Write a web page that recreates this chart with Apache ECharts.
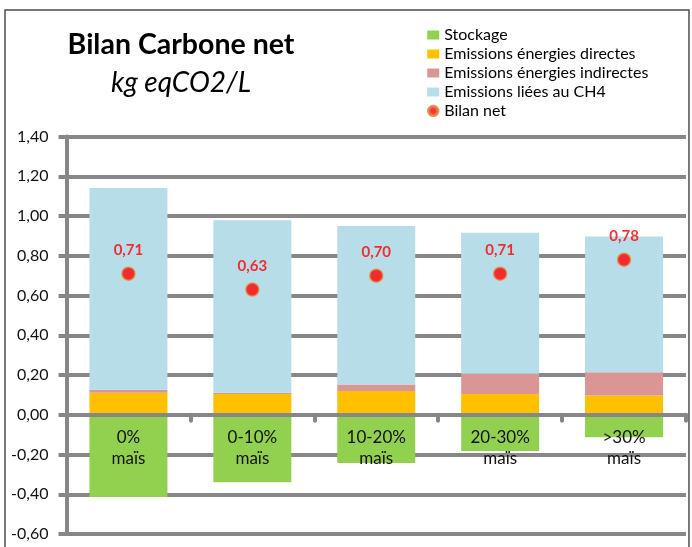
<!DOCTYPE html>
<html>
<head>
<meta charset="utf-8">
<script src="https://cdn.jsdelivr.net/npm/echarts@6/dist/echarts.min.js"></script>
<style>
html,body{margin:0;padding:0;background:#fff;}
#chart{width:692px;height:547px;}
</style>
</head>
<body>
<div id="chart"></div>
<script>
const categories = ['0%\nmaïs', '0-10%\nmaïs', '10-20%\nmaïs', '20-30%\nmaïs', '>30%\nmaïs'];
const stockage = [-0.414, -0.339, -0.243, -0.183, -0.113];
const emissionsDirectes = [0.111, 0.104, 0.119, 0.104, 0.097];
const emissionsIndirectes = [0.015, 0.007, 0.033, 0.102, 0.117];
const emissionsCH4 = [1.015, 0.867, 0.798, 0.710, 0.683];
const bilanNet = [0.71, 0.63, 0.70, 0.71, 0.78];

const FONT = 'Lato, "Open Sans", sans-serif';
const GRID_GRAY = '#878787';
const fmt = v => v.toFixed(2).replace('.', ',');

const chart = echarts.init(document.getElementById('chart'));
chart.setOption({
  animation: false,
  textStyle: { fontFamily: FONT },
  title: [
    { text: 'Bilan Carbone net', left: 176, top: 25, textAlign: 'center',
      textStyle: { fontFamily: FONT, fontSize: 28.5, fontWeight: 'bold', color: '#000' } },
    { text: 'kg eqCO2/L', left: 176, top: 64, textAlign: 'center',
      textStyle: { fontFamily: FONT, fontSize: 28, fontStyle: 'italic', fontWeight: 'normal', color: '#000' } }
  ],
  legend: {
    orient: 'vertical', left: 422, top: 21.5,
    itemWidth: 12, itemHeight: 9, itemGap: 2,
    textStyle: { fontFamily: FONT, fontSize: 16, lineHeight: 17, color: '#000' },
    data: [
      { name: 'Stockage', icon: 'rect' },
      { name: 'Emissions énergies directes', icon: 'rect' },
      { name: 'Emissions énergies indirectes', icon: 'rect' },
      { name: 'Emissions liées au CH4', icon: 'rect' },
      { name: 'Bilan net', icon: 'circle', itemStyle: { color: '#FF0000', borderColor: '#E07B39', borderWidth: 3.5 } }
    ]
  },
  graphic: [
    { type: 'rect', shape: { x: 5, y: 10, width: 684, height: 600 },
      style: { fill: 'none', stroke: '#4d4d4d', lineWidth: 1.5 }, z: 100 }
  ],
  grid: { left: 66.5, right: 6, top: 136.5, bottom: 13, containLabel: false, outerBoundsMode: 'none' },
  xAxis: {
    type: 'category', data: categories, z: 10,
    axisLine: { onZero: true, lineStyle: { color: GRID_GRAY, width: 4 } },
    axisTick: { show: true, inside: false, length: 6, lineStyle: { color: GRID_GRAY, width: 4, cap: 'round' } },
    axisLabel: { margin: -107, fontSize: 17, lineHeight: 21, color: '#111', fontFamily: FONT },
    splitLine: { show: false }
  },
  yAxis: {
    type: 'value', min: -0.6, max: 1.4, interval: 0.2, z: 0,
    axisLine: { show: true, lineStyle: { color: GRID_GRAY, width: 4 } },
    axisTick: { show: true, length: 8, lineStyle: { color: GRID_GRAY, width: 4 } },
    axisLabel: { margin: 18, fontSize: 16, color: '#111', fontFamily: FONT, formatter: v => fmt(v) },
    splitLine: { show: true, lineStyle: { color: GRID_GRAY, width: 4 } }
  },
  series: [
    { name: 'Stockage', type: 'bar', stack: 'a', data: stockage, barWidth: 78,
      itemStyle: { color: '#92D050' } },
    { name: 'Emissions énergies directes', type: 'bar', stack: 'a', data: emissionsDirectes, barWidth: 78,
      itemStyle: { color: '#FFC000' } },
    { name: 'Emissions énergies indirectes', type: 'bar', stack: 'a', data: emissionsIndirectes, barWidth: 78,
      itemStyle: { color: '#D99694' } },
    { name: 'Emissions liées au CH4', type: 'bar', stack: 'a', data: emissionsCH4, barWidth: 78,
      itemStyle: { color: '#B7DDE8' } },
    { name: 'Bilan net', type: 'scatter', data: bilanNet, symbol: 'circle', symbolSize: 13, z: 20,
      itemStyle: { color: '#FF0000', borderColor: '#E98A3C', borderWidth: 1.5 },
      label: { show: true, position: 'top', distance: 9, color: '#FF0000', fontWeight: 'bold',
               fontSize: 15, fontFamily: FONT, formatter: p => fmt(p.value) } }
  ]
});
</script>
</body>
</html>
